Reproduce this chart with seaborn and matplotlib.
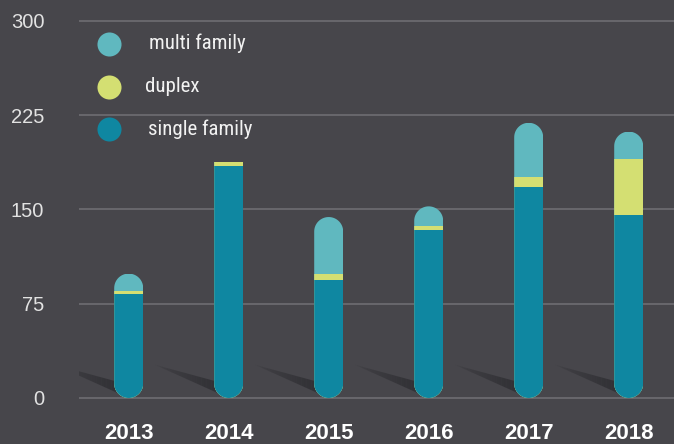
import numpy as np
import matplotlib
matplotlib.use("Agg")
import matplotlib.pyplot as plt
from matplotlib.path import Path
from matplotlib.patches import PathPatch
from matplotlib import font_manager
import seaborn as sns

# -----------------------------
# data
# -----------------------------
years = ["2013", "2014", "2015", "2016", "2017", "2018"]
single_family = [83, 185, 94, 134, 168, 146]
duplex = [2, 3, 5, 2.5, 8, 44]
multi_family = [14, 0, 45, 16, 43, 22]
y_ticks = [0, 75, 150, 225, 300]
series_names = ["multi family", "duplex", "single family"]

BG = "#47464b"
C_MULTI = "#60b8bf"
C_DUPLEX = "#d4df72"
C_SINGLE = "#0f87a1"

sns.set_style("dark")
names = {f.name for f in font_manager.fontManager.ttflist}
narrow = next((n for n in ["Liberation Sans Narrow", "Roboto Condensed", "Open Sans Condensed", "Roboto"]
               if n in names), "DejaVu Sans")
plt.rcParams["font.family"] = ["Liberation Sans", "DejaVu Sans"]

fig = plt.figure(figsize=(6.74, 4.44), dpi=100, facecolor=BG)
ax = fig.add_axes([79 / 674, 43.5 / 444, 595 / 674, 385.8 / 444])
ax.set_facecolor(BG)

single_arr = np.array(single_family, dtype=float)
duplex_arr = np.array(duplex, dtype=float)
multi_arr = np.array(multi_family, dtype=float)
totals = single_arr + duplex_arr + multi_arr

# layered bars: total -> single+duplex -> single
sns.barplot(x=years, y=totals, color=C_MULTI, width=0.29, saturation=1,
            linewidth=0, errorbar=None, ax=ax, zorder=3)
sns.barplot(x=years, y=single_arr + duplex_arr, color=C_DUPLEX, width=0.29, saturation=1,
            linewidth=0, errorbar=None, ax=ax, zorder=4)
sns.barplot(x=years, y=single_arr, color=C_SINGLE, width=0.29, saturation=1,
            linewidth=0, errorbar=None, ax=ax, zorder=5)

ax.set_ylim(-2, 305)
ax.set_xlim(-0.497, 5.453)

# rounded ends: clip every stack to a capsule built from its own bar
ry = 11.5
for i, p in enumerate(ax.containers[0].patches):
    left, w, top = p.get_x(), p.get_width(), p.get_height()
    c, rx = left + w / 2, w / 2
    t = np.linspace(np.pi, 2 * np.pi, 30)
    verts = [(c + rx * np.cos(a), ry + ry * np.sin(a)) for a in t]
    if multi_arr[i] > 0:
        t2 = np.linspace(0, np.pi, 30)
        verts += [(c + rx * np.cos(a), top - ry + ry * np.sin(a)) for a in t2]
    else:
        verts += [(left + w, top), (left, top)]
    verts.append(verts[0])
    clip = PathPatch(Path(verts), transform=ax.transData)
    for cont in ax.containers:
        cont.patches[i].set_clip_path(clip)

    # soft diagonal shadow behind the bar foot (wedge fading to the tip)
    tip = np.array([c - 0.74, 26.5])
    up0 = np.array([c, 10.5])
    lo0 = np.array([c, 0.0])
    n = 30
    for j in range(n):
        t0, t1 = j / n, (j + 1) / n
        poly = [up0 + (tip - up0) * t0, up0 + (tip - up0) * t1,
                lo0 + (tip - lo0) * t1, lo0 + (tip - lo0) * t0]
        alpha = 0.55 * (1 - (t0 + t1) / 2) ** 0.6
        ax.fill([q[0] for q in poly], [q[1] for q in poly], color="#1c1c20",
                alpha=alpha, lw=0, zorder=2)

# axes styling
ax.set_yticks(y_ticks)
ax.set_yticklabels([str(v) for v in y_ticks])
ax.grid(axis="y", color="#727176", lw=1.1, zorder=1)
ax.grid(axis="x", visible=False)
for s in ax.spines.values():
    s.set_visible(False)
ax.tick_params(axis="y", length=0, pad=25, labelsize=14.5, labelcolor="#e2e2e2")
ax.tick_params(axis="x", length=0, pad=16, labelsize=16, labelcolor="#ffffff")
for lab in ax.get_xticklabels():
    lab.set_fontweight("bold")
ax.set_xlabel("")
ax.set_ylabel("")

# legend drawn by hand
leg_colors = [C_MULTI, C_DUPLEX, C_SINGLE]
leg_y = [0.925, 0.8126, 0.703]
leg_tx = [0.1176, 0.111, 0.116]
for name, col, yy, tx in zip(series_names, leg_colors, leg_y, leg_tx):
    ax.scatter([0.0504], [yy], s=300, color=col, transform=ax.transAxes,
               clip_on=False, zorder=6, linewidths=0)
    ax.text(tx, yy, name, transform=ax.transAxes, va="center", ha="left",
            fontsize=15, color="#f2f2f2", family=[narrow, "DejaVu Sans"])

fig.savefig("out.png", dpi=100, facecolor=BG)
